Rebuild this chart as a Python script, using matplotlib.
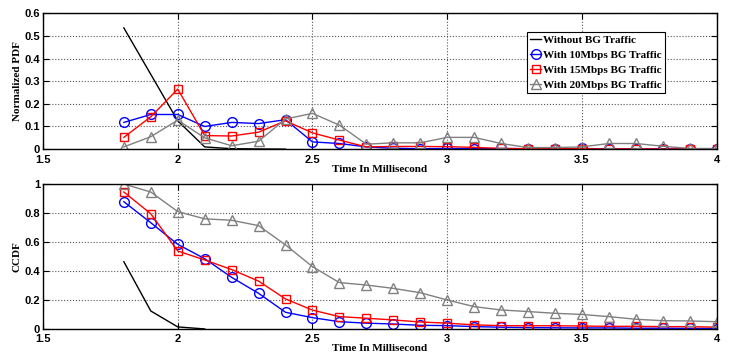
import matplotlib
matplotlib.use("Agg")
import matplotlib.pyplot as plt
from matplotlib.ticker import FuncFormatter

t = [1.8, 1.9, 2.0, 2.1, 2.2, 2.3, 2.4, 2.5, 2.6, 2.7, 2.8, 2.9,
     3.0, 3.1, 3.2, 3.3, 3.4, 3.5, 3.6, 3.7, 3.8, 3.9, 4.0]

# PDF
t_nobg_pdf = [1.8, 1.9, 2.0, 2.1, 2.2, 2.3, 2.4]
pdf_nobg = [0.535, 0.33, 0.125, 0.01, 0.002, 0.001, 0.0]
pdf_10 = [0.118, 0.153, 0.153, 0.10, 0.118, 0.113, 0.13, 0.032, 0.025, 0.01,
          0.004, 0.002, 0.003, 0.002, 0.003, 0.002, 0.001, 0.003, 0.001, 0.001,
          0.001, 0.001, 0.001]
pdf_15 = [0.052, 0.143, 0.265, 0.06, 0.058, 0.075, 0.125, 0.072, 0.04, 0.01,
          0.012, 0.012, 0.011, 0.008, 0.003, 0.002, 0.002, 0.002, 0.001, 0.001,
          0.001, 0.001, 0.002]
pdf_20 = [0.01, 0.055, 0.128, 0.05, 0.015, 0.035, 0.133, 0.158, 0.106, 0.022,
          0.028, 0.028, 0.052, 0.052, 0.025, 0.007, 0.007, 0.01, 0.025, 0.025,
          0.013, 0.003, 0.003]

# CCDF
t_nobg_ccdf = [1.8, 1.9, 2.0, 2.1]
ccdf_nobg = [0.464, 0.124, 0.014, 0.0]
ccdf_10 = [0.878, 0.733, 0.584, 0.485, 0.356, 0.246, 0.115, 0.078, 0.05, 0.04,
           0.034, 0.025, 0.023, 0.016, 0.012, 0.009, 0.008, 0.007, 0.007, 0.005,
           0.005, 0.004, 0.003]
ccdf_15 = [0.945, 0.795, 0.538, 0.476, 0.41, 0.33, 0.207, 0.13, 0.085, 0.074,
           0.062, 0.048, 0.04, 0.028, 0.023, 0.022, 0.022, 0.02, 0.018, 0.018,
           0.016, 0.016, 0.012]
ccdf_20 = [1.0, 0.945, 0.81, 0.76, 0.75, 0.713, 0.58, 0.43, 0.32, 0.303,
           0.28, 0.25, 0.2, 0.154, 0.131, 0.12, 0.108, 0.10, 0.085, 0.067,
           0.057, 0.055, 0.05]

labels = ["Without BG Traffic", "With 10Mbps BG Traffic",
          "With 15Mbps BG Traffic", "With 20Mbps BG Traffic"]

serif_bold = {"family": "Liberation Serif", "weight": "bold", "size": 8}

fig = plt.figure(figsize=(7.29, 3.56), dpi=100)
ax1 = fig.add_axes([0.059, 0.581, 0.924, 0.382])
ax2 = fig.add_axes([0.059, 0.076, 0.924, 0.407])


def style(ax, ymax, ystep):
    ax.set_xlim(1.5, 4)
    ax.set_ylim(0, ymax)
    ax.set_xticks([1.5, 2, 2.5, 3, 3.5, 4])
    n = int(round(ymax / ystep))
    ax.set_yticks([i * ystep for i in range(n + 1)])
    ax.yaxis.set_major_formatter(FuncFormatter(lambda v, p: "%g" % round(v, 2)))
    ax.xaxis.set_major_formatter(FuncFormatter(lambda v, p: "%g" % v))
    ax.grid(True, linestyle=":", color="#555555", linewidth=0.8)
    ax.tick_params(direction="in", top=True, right=True, length=4, width=0.8,
                   labelsize=8, pad=2)
    ax.tick_params(axis="x", pad=4)
    for lab in ax.get_xticklabels() + ax.get_yticklabels():
        lab.set_fontfamily("Liberation Sans")
        lab.set_fontweight("bold")
    for s in ax.spines.values():
        s.set_linewidth(1.0)
    ax.set_xlabel("Time In Millisecond", fontdict=serif_bold, labelpad=0)


ax1.plot(t_nobg_pdf, pdf_nobg, color="black", lw=1.0, label=labels[0])
ax1.plot(t, pdf_10, color="blue", lw=1.0, marker="o", ms=7, mfc="none", label=labels[1])
ax1.plot(t, pdf_15, color="red", lw=1.0, marker="s", ms=6, mfc="none", label=labels[2])
ax1.plot(t, pdf_20, color="gray", lw=1.0, marker="^", ms=7, mfc="none", label=labels[3])
style(ax1, 0.6, 0.1)
ax1.set_ylabel("Normalized PDF", fontdict=serif_bold, labelpad=2)
leg = ax1.legend(loc="upper left", bbox_to_anchor=(0.718, 0.86), prop=serif_bold,
                 frameon=True, fancybox=False, edgecolor="black", framealpha=1,
                 handlelength=1.0, handletextpad=0.2, borderpad=0.3,
                 labelspacing=0.45, borderaxespad=0)
leg.get_frame().set_linewidth(0.8)

ax2.plot(t_nobg_ccdf, ccdf_nobg, color="black", lw=1.0)
ax2.plot(t, ccdf_10, color="blue", lw=1.0, marker="o", ms=7, mfc="none")
ax2.plot(t, ccdf_15, color="red", lw=1.0, marker="s", ms=6, mfc="none")
ax2.plot(t, ccdf_20, color="gray", lw=1.0, marker="^", ms=7, mfc="none")
style(ax2, 1.0, 0.2)
ax2.set_ylabel("CCDF", fontdict=serif_bold, labelpad=2)

fig.savefig("out.png", dpi=100)
